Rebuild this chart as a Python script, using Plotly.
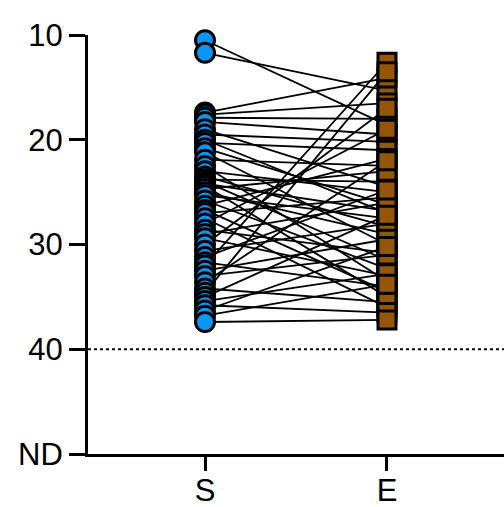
import plotly.graph_objects as go

categories = ["S", "E"]
s_values = [10.5, 11.7, 17.4, 17.6, 17.9, 18.3, 19.0, 19.5, 20.0, 20.3, 20.8, 21.2, 21.9, 22.5,
            23.0, 23.5, 23.8, 24.0, 24.2, 24.4, 24.7, 25.0, 25.3, 25.8, 26.3, 26.7, 27.0, 27.5,
            28.0, 28.6, 29.0, 29.4, 30.0, 30.6, 31.2, 31.7, 32.0, 32.5, 33.0, 33.6, 34.2, 34.6,
            35.0, 35.4, 35.8, 36.3, 36.8, 37.4]
e_values = [18.6, 15.3, 14.1, 16.5, 18.0, 19.5, 24.5, 20.2, 27.0, 21.0, 26.2, 30.0, 22.5, 33.5,
            25.0, 28.3, 24.0, 31.5, 26.8, 35.0, 23.0, 29.0, 27.5, 32.3, 21.8, 34.5, 25.5, 36.0,
            19.0, 30.8, 26.0, 33.0, 17.0, 28.0, 24.8, 34.0, 12.6, 29.5, 31.0, 22.0, 35.5, 13.5,
            27.2, 32.8, 36.5, 30.2, 33.8, 37.2]
tick_vals = [10, 20, 30, 40, 50]
tick_text = ["10", "20", "30", "40", "ND"]
threshold = 40

xs, ys = [], []
for s, e in zip(s_values, e_values):
    xs += [0, 1, None]
    ys += [s, e, None]

fig = go.Figure()
fig.add_trace(go.Scatter(x=xs, y=ys, mode="lines", line=dict(color="black", width=1.8),
                         hoverinfo="skip", cliponaxis=False))
fig.add_trace(go.Scatter(x=[0] * len(s_values), y=s_values, mode="markers", cliponaxis=False,
                         marker=dict(symbol="circle", size=19, color="#0A96F5",
                                     line=dict(color="black", width=3))))
fig.add_trace(go.Scatter(x=[1] * len(e_values), y=e_values, mode="markers", cliponaxis=False,
                         marker=dict(symbol="square", size=18, color="#95560A",
                                     line=dict(color="black", width=3))))

fig.add_shape(type="line", xref="paper", yref="y", x0=0, x1=1, y0=threshold, y1=threshold,
              line=dict(color="black", width=2.2, dash="dot"), layer="below")

fig.update_layout(
    width=504, height=507,
    margin=dict(l=88, r=0, t=35, b=53),
    plot_bgcolor="white", paper_bgcolor="white",
    showlegend=False,
    font=dict(family="Liberation Sans, Arial, sans-serif", size=31, color="black"),
    xaxis=dict(range=[-0.643, 1.643], tickvals=[0, 1], ticktext=categories, automargin=False,
               showline=True, linecolor="black", linewidth=3, showgrid=False, zeroline=False,
               ticks="outside", ticklen=14, tickwidth=3, tickcolor="black",
               ticklabelstandoff=-7),
    yaxis=dict(range=[50, 10], tickvals=tick_vals, ticktext=tick_text, automargin=False,
               showline=True, linecolor="black", linewidth=3, showgrid=False, zeroline=False,
               ticks="outside", ticklen=16, tickwidth=3, tickcolor="black"),
)

fig.write_html("out.html")
